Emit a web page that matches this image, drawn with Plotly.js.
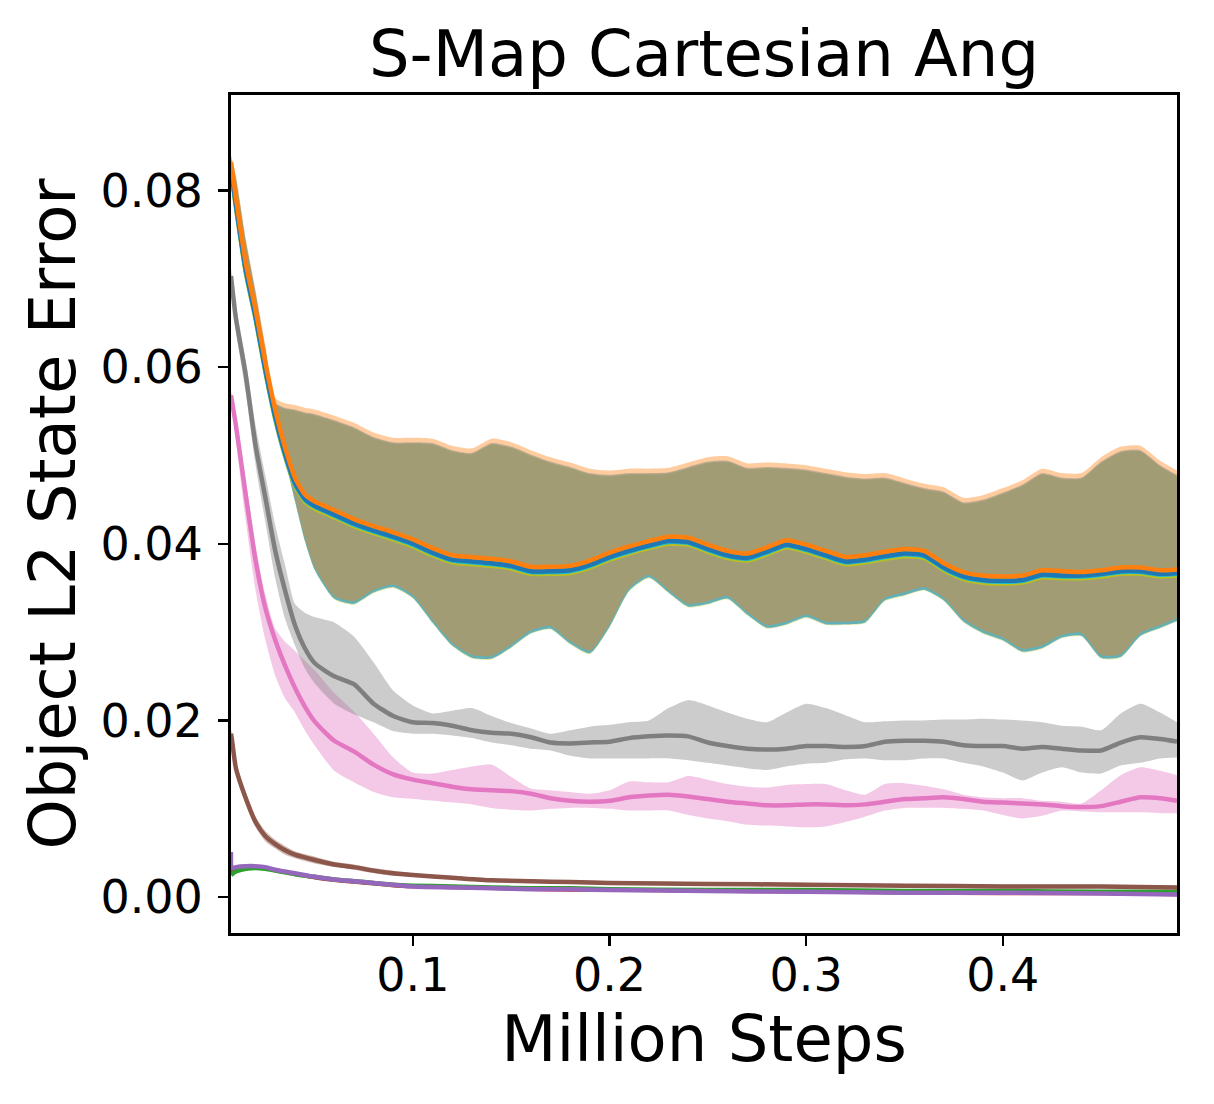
<!DOCTYPE html>
<html>
<head>
<meta charset="utf-8">
<script src="https://cdn.plot.ly/plotly-3.0.1.min.js"></script>
<style>html,body{margin:0;padding:0;background:#fff;}</style>
</head>
<body>
<div id="chart" style="width:1214px;height:1104px;"></div>
<script>
// ---------- data ----------
const xMain = [0.0075,0.01,0.015,0.02,0.025,0.03,0.035,0.04,0.045,0.05,0.06,0.07,0.08,0.09,0.10,0.11,0.12,0.13,0.14,0.15,0.16,0.17,0.18,0.19,0.20,0.21,0.22,0.23,0.24,0.25,0.26,0.27,0.28,0.29,0.30,0.31,0.32,0.33,0.34,0.35,0.36,0.37,0.38,0.39,0.40,0.41,0.42,0.43,0.44,0.45,0.46,0.47,0.48,0.4886];

const orangeMean = [0.0832,0.0792,0.0718,0.0665,0.0605,0.0552,0.0509,0.0475,0.0456,0.0448, 0.0438,0.0428,0.0420,0.0413,0.0405, 0.0395,0.0387,0.0385,0.0383,0.0380, 0.0374,0.0374,0.0375,0.0381,0.0390, 0.0397,0.0403,0.0408,0.0407,0.0399, 0.0392,0.0389,0.0396,0.0404,0.0399, 0.0392,0.0385,0.0387,0.0391,0.0394, 0.0392,0.0378,0.0368,0.0364,0.0363, 0.0364,0.0370,0.0369,0.0368,0.0370, 0.0373,0.0373,0.0370,0.0371];
const orangeUpper = [0.0840,0.0817,0.0746,0.0687,0.0625,0.0565,0.0559,0.0557,0.0554,0.0552, 0.0545,0.0537,0.0526,0.0520,0.0520, 0.0519,0.0511,0.0508,0.0519,0.0515, 0.0506,0.0498,0.0492,0.0485,0.0483, 0.0485,0.0485,0.0486,0.0492,0.0498, 0.0499,0.0491,0.0492,0.0491,0.0489, 0.0485,0.0481,0.0479,0.0480,0.0474, 0.0468,0.0464,0.0452,0.0455,0.0463, 0.0472,0.0485,0.0480,0.0480,0.0498, 0.0510,0.0511,0.0494,0.0483];
const orangeLower = [0.0822,0.0781,0.0707,0.0654,0.0594,0.0541,0.0499,0.0452,0.0407,0.0374, 0.0341,0.0335,0.0348,0.0354,0.0342, 0.0314,0.0288,0.0274,0.0273,0.0286, 0.0302,0.0307,0.0290,0.0279,0.0309, 0.0350,0.0365,0.0348,0.0332,0.0335, 0.0341,0.0323,0.0308,0.0312,0.0320, 0.0312,0.0312,0.0314,0.0339,0.0345, 0.0351,0.0339,0.0315,0.0302,0.0294, 0.0281,0.0285,0.0297,0.0299,0.0274, 0.0275,0.0299,0.0308,0.0316];

const blueMean = [0.0825,0.0784,0.0710,0.0657,0.0597,0.0544,0.0502,0.0469,0.0451,0.0443, 0.0433,0.0423,0.0415,0.0408,0.0400, 0.0390,0.0382,0.0380,0.0378,0.0375, 0.0369,0.0369,0.0370,0.0376,0.0385, 0.0392,0.0398,0.0403,0.0402,0.0394, 0.0387,0.0384,0.0391,0.0399,0.0394, 0.0387,0.0380,0.0382,0.0386,0.0389, 0.0387,0.0373,0.0363,0.0359,0.0358, 0.0359,0.0365,0.0364,0.0364,0.0366, 0.0369,0.0369,0.0366,0.0367];
const blueUpper = [0.0837,0.0814,0.0743,0.0684,0.0621,0.0560,0.0554,0.0552,0.0549,0.0547, 0.0540,0.0532,0.0521,0.0515,0.0515, 0.0514,0.0506,0.0503,0.0514,0.0510, 0.0501,0.0493,0.0487,0.0480,0.0478, 0.0480,0.0480,0.0481,0.0487,0.0493, 0.0494,0.0486,0.0487,0.0486,0.0484, 0.0480,0.0476,0.0474,0.0475,0.0469, 0.0463,0.0459,0.0447,0.0450,0.0458, 0.0467,0.0480,0.0475,0.0475,0.0493, 0.0505,0.0506,0.0489,0.0478];
const blueLower = [0.0819,0.0778,0.0704,0.0651,0.0591,0.0538,0.0496,0.0449,0.0404,0.0371, 0.0338,0.0332,0.0345,0.0351,0.0339, 0.0311,0.0285,0.0271,0.0270,0.0283, 0.0299,0.0304,0.0287,0.0276,0.0306, 0.0347,0.0362,0.0345,0.0329,0.0332, 0.0338,0.0320,0.0305,0.0309,0.0317, 0.0309,0.0309,0.0311,0.0336,0.0342, 0.0348,0.0336,0.0312,0.0299,0.0291, 0.0278,0.0282,0.0294,0.0296,0.0271, 0.0272,0.0296,0.0305,0.0313];

const cyanMean = [0.0824,0.0783,0.0709,0.0656,0.0596,0.0543,0.0501,0.0468,0.0450,0.0442, 0.0432,0.0422,0.0414,0.0407,0.0399, 0.0389,0.0381,0.0379,0.0377,0.0374, 0.0368,0.0368,0.0369,0.0375,0.0384, 0.0391,0.0397,0.0402,0.0401,0.0393, 0.0386,0.0383,0.0390,0.0398,0.0393, 0.0386,0.0379,0.0381,0.0385,0.0388, 0.0386,0.0372,0.0362,0.0358,0.0357, 0.0358,0.0364,0.0363,0.0363,0.0365, 0.0368,0.0368,0.0365,0.0366];
const cyanUpper = [0.0836,0.0813,0.0742,0.0683,0.0620,0.0559,0.0553,0.0551,0.0548,0.0546, 0.0539,0.0531,0.0520,0.0514,0.0514, 0.0513,0.0505,0.0502,0.0513,0.0509, 0.0500,0.0492,0.0486,0.0479,0.0477, 0.0479,0.0479,0.0480,0.0486,0.0492, 0.0493,0.0485,0.0486,0.0485,0.0483, 0.0479,0.0475,0.0473,0.0474,0.0468, 0.0462,0.0458,0.0446,0.0449,0.0457, 0.0466,0.0479,0.0474,0.0474,0.0492, 0.0504,0.0505,0.0488,0.0477];
const cyanLower = [0.0819,0.0778,0.0704,0.0651,0.0591,0.0538,0.0496,0.0449,0.0404,0.0371, 0.0338,0.0332,0.0345,0.0351,0.0339, 0.0311,0.0285,0.0271,0.0270,0.0283, 0.0299,0.0304,0.0287,0.0276,0.0306, 0.0347,0.0362,0.0345,0.0329,0.0332, 0.0338,0.0320,0.0305,0.0309,0.0317, 0.0309,0.0309,0.0311,0.0336,0.0342, 0.0348,0.0336,0.0312,0.0299,0.0291, 0.0278,0.0282,0.0294,0.0296,0.0271, 0.0272,0.0296,0.0305,0.0313];

const oliveMean = [0.0822,0.0781,0.0707,0.0654,0.0594,0.0541,0.0499,0.0466,0.0448,0.0440, 0.0430,0.0420,0.0412,0.0405,0.0397, 0.0387,0.0379,0.0377,0.0375,0.0372, 0.0366,0.0366,0.0367,0.0373,0.0382, 0.0389,0.0395,0.0400,0.0399,0.0391, 0.0384,0.0381,0.0388,0.0396,0.0391, 0.0384,0.0377,0.0379,0.0383,0.0386, 0.0384,0.0370,0.0360,0.0356,0.0355, 0.0356,0.0362,0.0361,0.0361,0.0363, 0.0366,0.0366,0.0363,0.0364];
const oliveUpper = [0.0835,0.0812,0.0741,0.0682,0.0619,0.0558,0.0552,0.0550,0.0547,0.0545, 0.0538,0.0530,0.0519,0.0513,0.0513, 0.0512,0.0504,0.0501,0.0512,0.0508, 0.0499,0.0491,0.0485,0.0478,0.0476, 0.0478,0.0478,0.0479,0.0485,0.0491, 0.0492,0.0484,0.0485,0.0484,0.0482, 0.0478,0.0474,0.0472,0.0473,0.0467, 0.0461,0.0457,0.0445,0.0448,0.0456, 0.0465,0.0478,0.0473,0.0473,0.0491, 0.0503,0.0504,0.0487,0.0476];
const oliveLower = [0.0818,0.0777,0.0703,0.0650,0.0590,0.0537,0.0495,0.0448,0.0403,0.0370, 0.0337,0.0331,0.0344,0.0350,0.0338, 0.0310,0.0284,0.0270,0.0269,0.0282, 0.0298,0.0303,0.0286,0.0275,0.0305, 0.0346,0.0361,0.0344,0.0328,0.0331, 0.0337,0.0319,0.0304,0.0308,0.0316, 0.0308,0.0308,0.0310,0.0335,0.0341, 0.0347,0.0335,0.0311,0.0298,0.0290, 0.0277,0.0281,0.0293,0.0295,0.0270, 0.0271,0.0295,0.0304,0.0312];

const grayMean = [0.0703,0.0655,0.0591,0.0511,0.0452,0.0392,0.0347,0.0308,0.0282,0.0265, 0.0250,0.0241,0.0219,0.0205,0.0198, 0.0197,0.0194,0.0189,0.0186,0.0185, 0.0181,0.0175,0.0174,0.0175,0.0176, 0.0180,0.0182,0.0183,0.0182,0.0175, 0.0171,0.0168,0.0167,0.0168,0.0171, 0.0171,0.0170,0.0171,0.0176,0.0177, 0.0177,0.0176,0.0172,0.0171,0.0171, 0.0168,0.0170,0.0168,0.0166,0.0166, 0.0175,0.0181,0.0179,0.0176];
const grayUpper = [0.0712,0.0670,0.0608,0.0534,0.0477,0.0421,0.0376,0.0332,0.0322,0.0317, 0.0311,0.0295,0.0266,0.0234,0.0217, 0.0208,0.0211,0.0214,0.0205,0.0197, 0.0191,0.0185,0.0189,0.0193,0.0195, 0.0198,0.0200,0.0214,0.0223,0.0217, 0.0209,0.0202,0.0198,0.0209,0.0219, 0.0214,0.0206,0.0198,0.0199,0.0200, 0.0200,0.0201,0.0201,0.0202,0.0201, 0.0200,0.0198,0.0194,0.0193,0.0189, 0.0208,0.0219,0.0209,0.0198];
const grayLower = [0.0696,0.0641,0.0571,0.0489,0.0424,0.0361,0.0315,0.0285,0.0259,0.0242, 0.0219,0.0207,0.0198,0.0188,0.0185, 0.0185,0.0183,0.0180,0.0175,0.0172, 0.0168,0.0166,0.0160,0.0157,0.0157, 0.0157,0.0157,0.0157,0.0155,0.0152, 0.0149,0.0146,0.0144,0.0148,0.0151, 0.0152,0.0156,0.0157,0.0155,0.0155, 0.0157,0.0157,0.0152,0.0148,0.0141, 0.0132,0.0141,0.0147,0.0141,0.0140, 0.0149,0.0152,0.0157,0.0158];

const pinkMean = [0.0568,0.0534,0.0455,0.0381,0.0327,0.0291,0.0262,0.0237,0.0216,0.0199, 0.0177,0.0165,0.0150,0.0139,0.0133, 0.0129,0.0125,0.0122,0.0121,0.0120, 0.0117,0.0112,0.0109,0.0108,0.0109, 0.0113,0.0115,0.0116,0.0114,0.0111, 0.0108,0.0106,0.0104,0.0104,0.0105, 0.0105,0.0104,0.0105,0.0108,0.0111, 0.0112,0.0113,0.0111,0.0108,0.0107, 0.0106,0.0105,0.0103,0.0102,0.0103, 0.0108,0.0113,0.0112,0.0109];
const pinkUpper = [0.0574,0.0545,0.0472,0.0398,0.0342,0.0304,0.0289,0.0279,0.0268,0.0257, 0.0231,0.0210,0.0185,0.0158,0.0141, 0.0140,0.0144,0.0148,0.0150,0.0136, 0.0123,0.0121,0.0119,0.0117,0.0121, 0.0131,0.0130,0.0130,0.0137,0.0133, 0.0128,0.0125,0.0124,0.0127,0.0128, 0.0128,0.0121,0.0116,0.0128,0.0129, 0.0126,0.0122,0.0116,0.0113,0.0112, 0.0112,0.0109,0.0108,0.0106,0.0121, 0.0138,0.0147,0.0143,0.0138];
const pinkLower = [0.0562,0.0517,0.0426,0.0347,0.0291,0.0251,0.0225,0.0209,0.0189,0.0172, 0.0143,0.0130,0.0119,0.0113,0.0111, 0.0109,0.0107,0.0105,0.0101,0.0099, 0.0098,0.0100,0.0101,0.0101,0.0100, 0.0098,0.0098,0.0098,0.0093,0.0089, 0.0086,0.0082,0.0081,0.0080,0.0079, 0.0080,0.0085,0.0091,0.0098,0.0101, 0.0101,0.0101,0.0100,0.0098,0.0093, 0.0089,0.0092,0.0098,0.0097,0.0096, 0.0096,0.0096,0.0095,0.0095];

const xLow = [0.0075,0.008,0.01,0.015,0.02,0.025,0.03,0.035,0.04,0.05,0.06,0.07,0.08,0.09,0.10,0.12,0.14,0.16,0.18,0.20,0.25,0.30,0.35,0.40,0.45,0.4886];
const brownMean  = [0.0185,0.0178,0.0146,0.0112,0.0085,0.0069,0.0060,0.0053,0.0048,0.0042,0.0037,0.0034,0.0030,0.0027,0.0025,0.0022,0.0019,0.0018,0.0017,0.0016,0.0015,0.0014,0.0013,0.0012,0.0012,0.0011];
const brownUpper = [0.0190,0.0185,0.0153,0.0119,0.0091,0.0075,0.0065,0.0058,0.0052,0.0046,0.0040,0.0037,0.0033,0.0030,0.0027,0.0024,0.0021,0.0020,0.0019,0.0018,0.0017,0.0016,0.0015,0.0014,0.0014,0.0013];
const brownLower = [0.0180,0.0171,0.0139,0.0105,0.0079,0.0063,0.0055,0.0048,0.0044,0.0038,0.0034,0.0031,0.0027,0.0024,0.0023,0.0020,0.0017,0.0016,0.0015,0.0014,0.0013,0.0012,0.0011,0.0010,0.0010,0.0009];
const purpleMean = [0.0051,0.0033,0.0034,0.0035,0.0035,0.0034,0.0031,0.0029,0.0027,0.0023,0.0020,0.0018,0.0016,0.0014,0.0012,0.0011,0.0010,0.0009,0.0009,0.0008,0.0007,0.0006,0.0005,0.0005,0.0004,0.0003];
const greenMean  = [0.0025,0.0026,0.0029,0.0032,0.0033,0.0032,0.0030,0.0028,0.0026,0.0023,0.0020,0.0018,0.0016,0.0014,0.0013,0.0012,0.0011,0.0010,0.0010,0.0009,0.0008,0.0008,0.0007,0.0007,0.0006,0.0006];
const redMean    = [0.0028,0.0029,0.0031,0.0033,0.0034,0.0033,0.0030,0.0028,0.0026,0.0022,0.0019,0.0017,0.0015,0.0013,0.0012,0.0011,0.0010,0.0009,0.0008,0.0008,0.0007,0.0006,0.0005,0.0004,0.0004,0.0003];

const xTickVals = [0.1,0.2,0.3,0.4];
const xTickText = ['0.1','0.2','0.3','0.4'];
const yTickVals = [0.00,0.02,0.04,0.06,0.08];
const yTickText = ['0.00','0.02','0.04','0.06','0.08'];

// ---------- styles ----------
const C = {
  blue:'#1f77b4', orange:'#ff7f0e', green:'#2ca02c', red:'#d62728', purple:'#9467bd',
  brown:'#8c564b', pink:'#e377c2', gray:'#7f7f7f', olive:'#bcbd22', cyan:'#17becf'
};
function rgba(hex, a){
  const n = parseInt(hex.slice(1),16);
  return 'rgba(' + ((n>>16)&255) + ',' + ((n>>8)&255) + ',' + (n&255) + ',' + a + ')';
}
function band(x, lo, hi, color){
  return [
    {x:x, y:lo, type:'scatter', mode:'lines', line:{width:0, shape:'spline', smoothing:0.6}, hoverinfo:'skip', showlegend:false},
    {x:x, y:hi, type:'scatter', mode:'lines', fill:'tonexty', fillcolor:rgba(color,0.4),
     line:{width:0, shape:'spline', smoothing:0.6}, hoverinfo:'skip', showlegend:false}
  ];
}
function line(x, y, color, w){
  return {x:x, y:y, type:'scatter', mode:'lines', line:{color:color, width:w||4.5, shape:'spline', smoothing:0.6}, showlegend:false};
}

const traces = [].concat(
  band(xLow, brownLower, brownUpper, C.brown),
  band(xMain, pinkLower, pinkUpper, C.pink),
  band(xMain, grayLower, grayUpper, C.gray),
  band(xMain, oliveLower, oliveUpper, C.olive),
  band(xMain, cyanLower, cyanUpper, C.cyan),
  band(xMain, blueLower, blueUpper, C.blue),
  band(xMain, orangeLower, orangeUpper, C.orange),
  [
    line(xLow, redMean, C.red, 3.5),
    line(xLow, greenMean, C.green, 4.5),
    line(xLow, purpleMean, C.purple, 4.5),
    line(xLow, brownMean, C.brown, 4.5),
    line(xMain, pinkMean, C.pink, 4.5),
    line(xMain, grayMean, C.gray, 4.5),
    line(xMain, oliveMean, C.olive, 4.5),
    line(xMain, cyanMean, C.cyan, 4.5),
    line(xMain, blueMean, C.blue, 4.5),
    line(xMain, orangeMean, C.orange, 4.5)
  ]
);

const axisCommon = {
  showgrid:false, zeroline:false, showline:true, linewidth:3, linecolor:'black', mirror:true,
  ticks:'outside', ticklen:10, tickwidth:2.5, tickcolor:'black',
  tickfont:{family:'DejaVu Sans', size:46, color:'black'}
};

const layout = {
  width:1214, height:1104,
  margin:{l:231, r:37, t:95, b:171, pad:0},
  paper_bgcolor:'white', plot_bgcolor:'white',
  showlegend:false,
  font:{family:'DejaVu Sans', color:'black'},
  title:{text:'S-Map Cartesian Ang', font:{family:'DejaVu Sans', size:64, color:'black'},
         xref:'paper', x:0.5, xanchor:'center', yref:'container', y:0.951, yanchor:'middle'},
  xaxis:Object.assign({}, axisCommon, {
    range:[0.0075,0.4886], tickmode:'array', tickvals:xTickVals, ticktext:xTickText,
    ticklabelstandoff:-10,
    title:{text:'Million Steps', font:{family:'DejaVu Sans', size:64, color:'black'}, standoff:4}
  }),
  yaxis:Object.assign({}, axisCommon, {
    range:[-0.00406,0.0908], tickmode:'array', tickvals:yTickVals, ticktext:yTickText,
    ticklabelstandoff:6,
    title:{text:'Object L2 State Error', font:{family:'DejaVu Sans', size:64, color:'black'}, standoff:4}
  })
};

Plotly.newPlot('chart', traces, layout, {displayModeBar:false, staticPlot:true});
</script>
</body>
</html>
